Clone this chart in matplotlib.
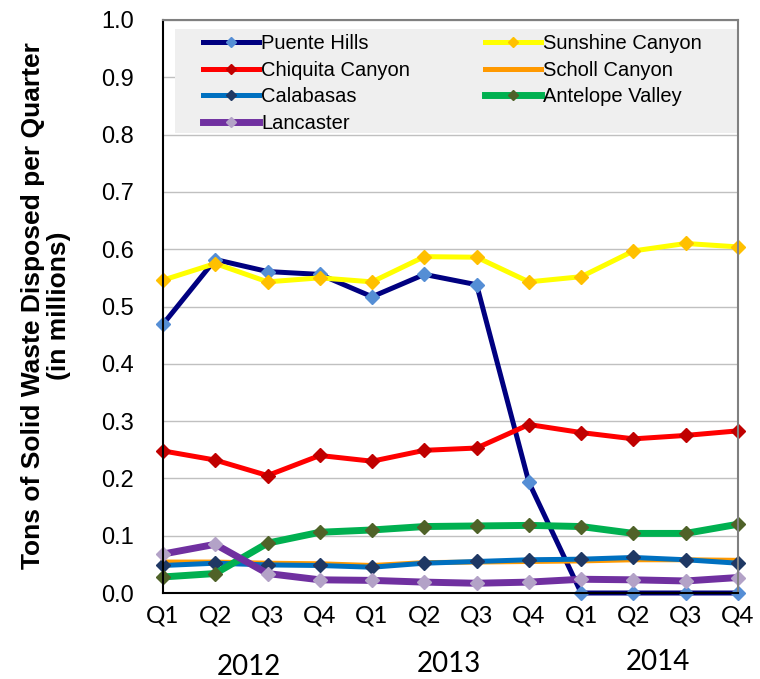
import matplotlib
matplotlib.use("Agg")
import matplotlib.pyplot as plt
from matplotlib.patches import Rectangle
from matplotlib.transforms import blended_transform_factory

quarters = ["Q1", "Q2", "Q3", "Q4"] * 3
years = ["2012", "2013", "2014"]

puente_hills = [0.469, 0.582, 0.561, 0.556, 0.517, 0.556, 0.538, 0.193, 0.0, 0.0, 0.0, 0.0]
sunshine_canyon = [0.546, 0.575, 0.543, 0.550, 0.543, 0.587, 0.586, 0.543, 0.552, 0.597, 0.610, 0.604]
chiquita_canyon = [0.248, 0.232, 0.205, 0.240, 0.230, 0.249, 0.253, 0.294, 0.280, 0.269, 0.275, 0.283]
scholl_canyon = [0.054, 0.054, 0.052, 0.051, 0.048, 0.053, 0.054, 0.055, 0.056, 0.058, 0.058, 0.057]
calabasas = [0.048, 0.052, 0.049, 0.048, 0.045, 0.052, 0.055, 0.058, 0.059, 0.062, 0.058, 0.052]
antelope_valley = [0.028, 0.034, 0.087, 0.106, 0.110, 0.116, 0.117, 0.118, 0.116, 0.104, 0.104, 0.120]
lancaster = [0.068, 0.085, 0.034, 0.023, 0.022, 0.019, 0.017, 0.019, 0.024, 0.023, 0.021, 0.027]

series = [
    ("Puente Hills", puente_hills, "#000080", "#558ed5", 3.6, "D"),
    ("Sunshine Canyon", sunshine_canyon, "#ffff00", "#ffc000", 3.6, "D"),
    ("Chiquita Canyon", chiquita_canyon, "#ff0000", "#c00000", 3.6, "D"),
    ("Scholl Canyon", scholl_canyon, "#ff9900", "#ff9900", 3.6, None),
    ("Calabasas", calabasas, "#0070c0", "#1f3864", 3.6, "D"),
    ("Antelope Valley", antelope_valley, "#00b050", "#4f6228", 5.0, "D"),
    ("Lancaster", lancaster, "#7030a0", "#b3a2c7", 5.0, "D"),
]

W, H = 760, 679
AX_L, AX_R, AX_T, AX_B = 163, 738, 20, 593
fig = plt.figure(figsize=(W / 100, H / 100), dpi=100)
ax = fig.add_axes([AX_L / W, 1 - AX_B / H, (AX_R - AX_L) / W, (AX_B - AX_T) / H])

def ax_x(px):
    return (px - AX_L) / (AX_R - AX_L)

def ax_y(py):
    return (AX_B - py) / (AX_B - AX_T)

x = list(range(len(quarters)))
handles = {}
for name, vals, lc, mc, lw, mk in series:
    (h,) = ax.plot(x, vals, color=lc, lw=lw, marker=mk, ms=7.5,
                   markerfacecolor=mc, markeredgecolor=mc, label=name,
                   clip_on=False, solid_joinstyle="miter")
    handles[name] = h

ax.set_xlim(0, len(quarters) - 1)
ax.set_ylim(0, 1.0)
ax.set_yticks([i / 10 for i in range(11)])
ax.set_yticklabels([f"{i / 10:.1f}" for i in range(11)],
                   fontfamily="Liberation Sans", fontsize=17)
ax.set_xticks(x)
ax.set_xticklabels(quarters, fontfamily=["Lato", "DejaVu Sans"], fontsize=17.5)
ax.tick_params(axis="y", length=0, pad=21)
ax.tick_params(axis="x", length=0, pad=9)
ax.grid(axis="y", color="#c0c0c0", lw=1)
ax.set_axisbelow(True)
for s in ["top", "right"]:
    ax.spines[s].set_color("#808080")
    ax.spines[s].set_linewidth(1.5)
for s in ["left", "bottom"]:
    ax.spines[s].set_color("#000000")
    ax.spines[s].set_linewidth(1.5)

# legend background
ax.add_patch(Rectangle((ax_x(175), ax_y(133)), ax_x(738) - ax_x(175),
                       ax_y(29) - ax_y(133), transform=ax.transAxes,
                       facecolor="#efefef", edgecolor="none", zorder=1.5))

col1 = ["Puente Hills", "Chiquita Canyon", "Calabasas", "Lancaster"]
col2 = ["Sunshine Canyon", "Scholl Canyon", "Antelope Valley"]
leg_kw = dict(loc="upper left", borderaxespad=0, frameon=False,
              prop={"family": "Liberation Sans", "size": 14.5},
              handlelength=2.8, handletextpad=0.1, labelspacing=0.38,
              borderpad=0, markerscale=0.7)
leg1 = ax.legend([handles[n] for n in col1], col1,
                 bbox_to_anchor=(ax_x(203), ax_y(34)), **leg_kw)
ax.add_artist(leg1)
leg2 = ax.legend([handles[n] for n in col2], col2,
                 bbox_to_anchor=(ax_x(485), ax_y(34)), **leg_kw)

fig.text(46 / W, 1 - 306 / H,
         "Tons of Solid Waste Disposed per Quarter\n(in millions)",
         rotation=90, ha="center", va="center", multialignment="center",
         fontfamily="Liberation Sans", fontweight="bold", fontsize=19,
         linespacing=1.15)

trans = blended_transform_factory(ax.transData, fig.transFigure)
year_x = [1.65, 5.47, 9.47]
year_y = [667, 664, 662]
for yr, xx, yy in zip(years, year_x, year_y):
    ax.text(xx, 1 - yy / H, yr, transform=trans, ha="center", va="center",
            fontfamily=["Lato", "DejaVu Sans"], fontsize=20)

fig.savefig("out.png", dpi=100)
